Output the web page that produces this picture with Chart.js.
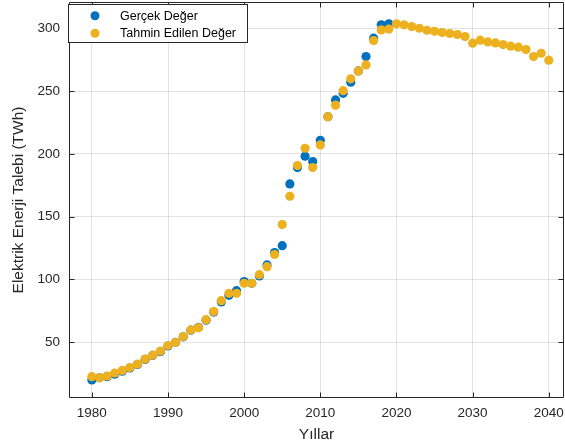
<!DOCTYPE html>
<html><head><meta charset="utf-8">
<script src="https://cdn.jsdelivr.net/npm/chart.js@4/dist/chart.umd.min.js"></script>
<style>html,body{margin:0;padding:0;background:#fff;} #wrap{width:565px;height:448px;}</style>
</head><body><div id="wrap"><canvas id="c" width="565" height="448"></canvas></div>
<script>
const actualYears = [1980,1981,1982,1983,1984,1985,1986,1987,1988,1989,
  1990,1991,1992,1993,1994,1995,1996,1997,1998,1999,
  2000,2001,2002,2003,2004,2005,2006,2007,2008,2009,
  2010,2011,2012,2013,2014,2015,2016,2017,2018,2019];
const actualValues = [20.0,21.8,22.6,24.5,27.0,29.5,32.3,36.3,39.5,42.5,
  47.0,50.0,54.3,59.6,61.8,67.6,74.0,82.1,87.4,91.1,
  98.3,97.0,102.8,111.6,121.5,126.9,176.1,189.1,198.2,193.9,
  210.9,229.7,243.0,248.3,257.1,266.1,277.5,292.2,302.8,303.6];
const forecastYears = [1980,1981,1982,1983,1984,1985,1986,1987,1988,1989,
  1990,1991,1992,1993,1994,1995,1996,1997,1998,1999,
  2000,2001,2002,2003,2004,2005,2006,2007,2008,2009,
  2010,2011,2012,2013,2014,2015,2016,2017,2018,2019,
  2020,2021,2022,2023,2024,2025,2026,2027,2028,2029,
  2030,2031,2032,2033,2034,2035,2036,2037,2038,2039,2040];
const forecastValues = [22.6,21.8,23.1,25.5,27.6,29.9,32.6,36.6,39.7,43.0,
  47.4,50.0,54.6,59.8,61.6,68.0,74.5,83.1,89.0,89.0,
  97.0,97.0,103.8,110.2,119.9,143.7,166.3,190.7,204.5,189.1,
  207.2,229.7,238.8,250.4,259.8,266.1,270.9,290.3,298.8,299.4,
  303.6,302.8,301.4,300.1,298.5,297.7,296.7,295.9,295.1,293.5,
  288.2,290.6,289.2,288.4,287.1,285.8,285.0,283.1,277.5,280.2,274.7];
const xTicks = [1980,1990,2000,2010,2020,2030,2040];
const yTicks = [50,100,150,200,250,300];
const seriesLabels = ['Gerçek Değer','Tahmin Edilen Değer'];
const xTitle = 'Yıllar';
const yTitle = 'Elektrik Enerji Talebi (TWh)';

const FONT = "'Liberation Sans', Arial, Helvetica, sans-serif";
const AX = '#262626';
const GRID = 'rgba(38,38,38,0.13)';
const BLUE = '#0072BD', YEL = '#EDB120';

const toPts = (xs, ys) => xs.map((x, i) => ({x: x, y: ys[i]}));
const zeroPad = s => { s.paddingTop = 0; s.paddingBottom = 0; s.paddingLeft = 0; s.paddingRight = 0; };

const framePlugin = {
  id: 'frame',
  afterDatasetsDraw(chart) {
    const {ctx, chartArea: a, scales} = chart;
    ctx.save();
    ctx.strokeStyle = AX; ctx.lineWidth = 1;
    ctx.beginPath();
    const L = Math.round(a.left) + 0.5, R = Math.round(a.right) - 0.5;
    const T = Math.round(a.top) + 0.5, B = Math.round(a.bottom) - 0.5;
    ctx.rect(L, T, R - L, B - T);
    const tl = 5;
    xTicks.forEach(v => {
      const px = Math.round(scales.x.getPixelForValue(v)) + 0.5;
      ctx.moveTo(px, B); ctx.lineTo(px, B - tl);
      ctx.moveTo(px, T); ctx.lineTo(px, T + tl);
    });
    yTicks.forEach(v => {
      const py = Math.round(scales.y.getPixelForValue(v)) + 0.5;
      ctx.moveTo(L, py); ctx.lineTo(L + tl, py);
      ctx.moveTo(R, py); ctx.lineTo(R - tl, py);
    });
    ctx.stroke();
    ctx.restore();
  },
  afterDraw(chart) {
    const {ctx} = chart;
    ctx.save();
    const bx = 68.5, by = 4.5, bw = 179, bh = 38;
    ctx.fillStyle = '#fff';
    ctx.fillRect(bx, by, bw, bh);
    ctx.strokeStyle = AX; ctx.lineWidth = 1;
    ctx.strokeRect(bx, by, bw, bh);
    const rows = [15.7, 33.3];
    chart.data.datasets.slice().sort((a, b) => a.legendIndex - b.legendIndex).forEach((ds, i) => {
      ctx.fillStyle = ds.backgroundColor;
      ctx.beginPath(); ctx.arc(95, rows[i], 4.5, 0, Math.PI * 2); ctx.fill();
      ctx.fillStyle = '#000';
      ctx.font = '12.5px ' + FONT;
      ctx.textBaseline = 'middle'; ctx.textAlign = 'left';
      ctx.fillText(ds.label, 120, rows[i] + 0.5);
    });
    ctx.restore();
  }
};

new Chart(document.getElementById('c'), {
  type: 'scatter',
  data: {
    datasets: [
      {label: seriesLabels[0], legendIndex: 0, data: toPts(actualYears, actualValues), backgroundColor: BLUE, borderWidth: 0, pointRadius: 4.6, order: 2},
      {label: seriesLabels[1], legendIndex: 1, data: toPts(forecastYears, forecastValues), backgroundColor: YEL, borderWidth: 0, pointRadius: 4.6, order: 1}
    ]
  },
  options: {
    responsive: false, animation: false, devicePixelRatio: 1,
    layout: {autoPadding: false, padding: {top: 2, right: 1, left: 0, bottom: 0}},
    plugins: {legend: {display: false}, tooltip: {enabled: false}},
    scales: {
      x: {
        type: 'linear', position: 'bottom', min: 1977, max: 2042,
        afterBuildTicks: s => { s.ticks = xTicks.map(v => ({value: v})); },
        afterFit: s => { s.height = 50; zeroPad(s); },
        grid: {color: GRID, drawTicks: false, lineWidth: 1},
        border: {display: false},
        ticks: {padding: 7, color: AX, font: {family: FONT, size: 13.5}, maxRotation: 0, callback: v => String(v)},
        title: {display: true, text: xTitle, color: AX, font: {family: FONT, size: 15.5}, padding: {top: 0, bottom: 4}}
      },
      y: {
        type: 'linear', position: 'left', min: 5.6, max: 321,
        afterBuildTicks: s => { s.ticks = yTicks.map(v => ({value: v})); },
        afterFit: s => { s.width = 69; zeroPad(s); },
        grid: {color: GRID, drawTicks: false, lineWidth: 1},
        border: {display: false},
        ticks: {padding: 9, color: AX, font: {family: FONT, size: 13.5}, callback: v => String(v)},
        title: {display: true, text: yTitle, color: AX, font: {family: FONT, size: 15.5}, padding: {top: 9, bottom: 0}}
      }
    }
  },
  plugins: [framePlugin]
});
</script>
</body></html>
